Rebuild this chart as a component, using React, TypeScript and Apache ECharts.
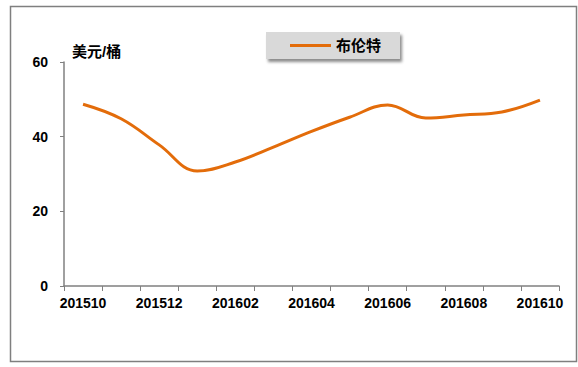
import React, { useEffect, useRef } from "react";
import * as echarts from "echarts";

const months = ["201510", "201511", "201512", "201601", "201602", "201603", "201604", "201605", "201606", "201607", "201608", "201609", "201610"];
const brent = [48.7, 44.8, 37.8, 30.8, 33.2, 37.2, 41.4, 45.2, 48.5, 45.0, 45.8, 46.6, 49.8];
const yTicks = [0, 20, 40, 60];
const seriesName = "布伦特";
const unitLabel = "美元/桶";

const FONT = "'Liberation Sans', 'Noto Sans CJK SC', sans-serif";

export default function App() {
  const ref = useRef<HTMLDivElement>(null);
  useEffect(() => {
    if (!ref.current) return;
    const chart = echarts.init(ref.current, null, { renderer: "svg" });
    chart.setOption({
      animation: false,
      backgroundColor: "#ffffff",
      grid: { left: 64, right: 19, top: 62, bottom: 81 },
      legend: {
        left: 266,
        top: 32,
        data: [{ name: seriesName, icon: "rect" }],
        itemWidth: 41,
        itemHeight: 3,
        itemGap: 10,
        padding: [6, 19, 6, 24],
        backgroundColor: "#D9D9D9",
        shadowColor: "rgba(0,0,0,0.45)",
        shadowBlur: 3,
        shadowOffsetX: 2,
        shadowOffsetY: 3,
        textStyle: { fontSize: 15, fontWeight: "bold", color: "#000", fontFamily: FONT },
      },
      xAxis: {
        type: "category",
        data: months,
        boundaryGap: true,
        axisLine: { lineStyle: { color: "#808080", width: 1.5 } },
        axisTick: { show: true, interval: 0, length: 5, lineStyle: { color: "#808080" } },
        axisLabel: { interval: 1, margin: 10, fontSize: 14, fontWeight: "bold", color: "#000", fontFamily: FONT },
        splitLine: { show: false },
      },
      yAxis: {
        type: "value",
        min: yTicks[0],
        max: yTicks[yTicks.length - 1],
        interval: 20,
        axisLine: { show: true, lineStyle: { color: "#808080", width: 1.5 } },
        axisTick: { show: true, length: 4, lineStyle: { color: "#808080" } },
        axisLabel: { margin: 16, fontSize: 14, fontWeight: "bold", color: "#000", fontFamily: FONT },
        splitLine: { show: false },
      },
      series: [
        {
          name: seriesName,
          type: "line",
          data: brent,
          smooth: 0.4,
          showSymbol: false,
          symbol: "none",
          lineStyle: { color: "#E36C0A", width: 3 },
          itemStyle: { color: "#E36C0A" },
        },
      ],
      graphic: [
        {
          type: "rect",
          left: 8,
          top: 4,
          shape: { x: 0, y: 0, width: 566, height: 355 },
          style: { fill: "none", stroke: "#7F7F7F", lineWidth: 1.5 },
          silent: true,
          z: -1,
        },
        {
          type: "text",
          left: 72,
          top: 44,
          style: { text: unitLabel, fontSize: 15, fontWeight: "bold", fill: "#000", fontFamily: FONT },
        },
      ],
    });
    return () => chart.dispose();
  }, []);
  return <div ref={ref} style={{ position: "absolute", left: 0, top: 0, width: 578, height: 367 }} />;
}
